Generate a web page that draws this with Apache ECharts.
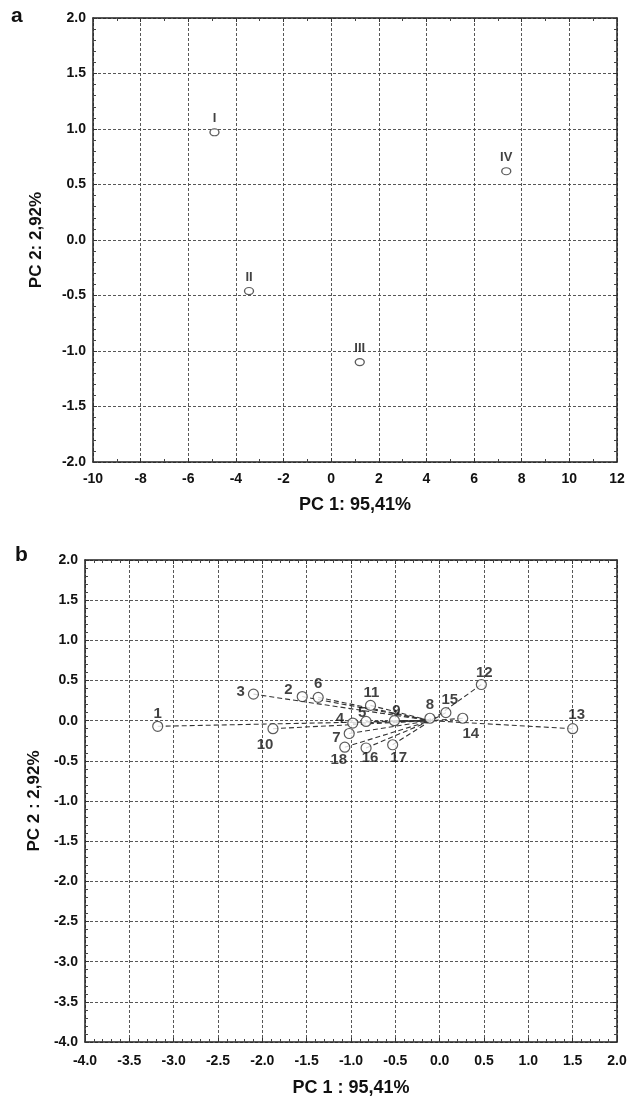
<!DOCTYPE html>
<html><head><meta charset="utf-8">
<script src="https://cdn.jsdelivr.net/npm/echarts@6/dist/echarts.min.js"></script>
<style>html,body{margin:0;padding:0;background:#fff}#c{width:641px;height:1100px}</style>
</head><body><div id="c"></div>
<script>
// Panel a: group scores
const groupNames = ['I', 'II', 'III', 'IV'];
const groupPC1 = [-4.9, -3.45, 1.2, 7.35];
const groupPC2 = [0.97, -0.46, -1.1, 0.62];
// Panel b: variable loadings
const varNames = ['1','2','3','4','5','6','7','8','9','10','11','12','13','14','15','16','17','18'];
const varPC1 = [-3.18, -1.55, -2.1, -0.98, -0.83, -1.37, -1.02, -0.11, -0.51, -1.88, -0.78, 0.47, 1.5, 0.26, 0.07, -0.83, -0.53, -1.07];
const varPC2 = [-0.07, 0.30, 0.33, -0.03, -0.01, 0.29, -0.16, 0.03, 0.0, -0.10, 0.19, 0.45, -0.10, 0.03, 0.10, -0.34, -0.30, -0.33];
const centerPoint = [-0.1, 0.0];
const xTitle = 'PC 1: 95,41%';
const yTitle = 'PC 2: 2,92%';
const xTitleB = 'PC 1 : 95,41%';
const yTitleB = 'PC 2 : 2,92%';

const FONT = 'Liberation Sans, Arial, sans-serif';
const labelPosB = {
  '1':'top','2':'left','3':'left','4':'left','5':'top','6':'top','7':'left','8':'top','9':'top',
  '10':'bottom','11':'top','12':'top','13':'top','14':'bottom','15':'top','16':'bottom','17':'bottom','18':'bottom'
};
const labelOffB = {
  '1':[0,4],'2':[-1,-7],'3':[0,-2],'4':[0,-4],'5':[-4,7],'6':[0,3],'7':[0,4],'8':[0,3],'9':[2,6],
  '10':[-8,0],'11':[1,4],'12':[3,4],'13':[4,2],'14':[8,0],'15':[4,3],'16':[4,-6],'17':[6,-3],'18':[-6,-3]
};

const gridLine = {show:true, lineStyle:{color:'#444', type:[3,2], width:0.9}};
const axisLineStyle = {show:true, onZero:false, lineStyle:{color:'#222', width:1.5}};
const tickLabel = {color:'#111', fontFamily:FONT, fontWeight:'bold', fontSize:14};

function mkAxis(o){
  return Object.assign({
    type:'value', axisLine:axisLineStyle,
    axisTick:{show:true, inside:true, length:4, lineStyle:{color:'#333'}},
    minorTick:{show:true, splitNumber:5, length:3, lineStyle:{color:'#444'}},
    splitLine:{show:false}
  }, o);
}

const chart = echarts.init(document.getElementById('c'), null, {renderer:'canvas'});

const seriesList = [];
// panel a scatter
seriesList.push({
  type:'scatter', xAxisIndex:0, yAxisIndex:0,
  data: groupNames.map((n,i)=>({value:[groupPC1[i], groupPC2[i]], name:n})),
  symbol:'circle', symbolSize:[9,7],
  itemStyle:{color:'#fff', borderColor:'#333', borderWidth:1.2},
  label:{show:true, position:'top', distance:3, formatter:p=>p.name, color:'#111', fontFamily:FONT, fontWeight:'bold', fontSize:13},
  z:5
});
// panel b lines
varNames.forEach((n,i)=>{
  seriesList.push({
    type:'line', xAxisIndex:2, yAxisIndex:2,
    data:[[varPC1[i], varPC2[i]], centerPoint],
    symbol:'none', silent:true,
    lineStyle:{color:'#333', width:1.1, type:[5,3]},
    z:3
  });
});
// panel b points
seriesList.push({
  type:'scatter', xAxisIndex:2, yAxisIndex:2,
  data: varNames.map((n,i)=>({
    value:[varPC1[i], varPC2[i]], name:n,
    label:{position:labelPosB[n], offset:labelOffB[n]}
  })),
  symbol:'circle', symbolSize:10,
  itemStyle:{color:'#fff', borderColor:'#333', borderWidth:1.2},
  label:{show:true, distance:3, formatter:p=>p.name, color:'#111', fontFamily:FONT, fontWeight:'bold', fontSize:15},
  z:5
});

const titleStyle = {fontFamily:FONT, fontWeight:'bold', fontSize:18, color:'#111'};
const yTitleStyle = {fontFamily:FONT, fontWeight:'bold', fontSize:17, color:'#111'};

chart.setOption({
  animation:false,
  backgroundColor:'#fff',
  graphic:[
    {type:'text', left:11, top:6, style:{text:'a', font:'bold 21px '+FONT, fill:'#111'}},
    {type:'text', left:15, top:545, style:{text:'b', font:'bold 21px '+FONT, fill:'#111'}}
  ],
  grid:[
    {left:93, top:18, width:524, height:444},
    {left:85, top:560, width:532, height:482}
  ],
  xAxis:[
    mkAxis({gridIndex:0, position:'bottom', min:-10, max:12, interval:2,
      minorTick:{show:true, splitNumber:2, length:3, lineStyle:{color:'#444'}},
      splitLine:gridLine, axisLabel:Object.assign({margin:10}, tickLabel),
      name:xTitle, nameLocation:'middle', nameGap:34, nameTextStyle:titleStyle}),
    mkAxis({gridIndex:0, position:'top', min:-10, max:12, interval:2,
      minorTick:{show:true, splitNumber:2, length:3, lineStyle:{color:'#444'}},
      axisLabel:{show:false}}),
    mkAxis({gridIndex:1, position:'bottom', min:-4, max:2, interval:0.5,
      splitLine:gridLine, axisLabel:Object.assign({margin:12, formatter:v=>v.toFixed(1)}, tickLabel),
      name:xTitleB, nameLocation:'middle', nameGap:37, nameTextStyle:titleStyle}),
    mkAxis({gridIndex:1, position:'top', min:-4, max:2, interval:0.5, axisLabel:{show:false}})
  ],
  yAxis:[
    mkAxis({gridIndex:0, position:'left', min:-2, max:2, interval:0.5,
      splitLine:gridLine, axisLabel:Object.assign({margin:7, formatter:v=>v.toFixed(1)}, tickLabel),
      name:yTitle, nameLocation:'middle', nameGap:48, nameTextStyle:yTitleStyle}),
    mkAxis({gridIndex:0, position:'right', min:-2, max:2, interval:0.5, axisLabel:{show:false}}),
    mkAxis({gridIndex:1, position:'left', min:-4, max:2, interval:0.5,
      splitLine:gridLine, axisLabel:Object.assign({margin:7, formatter:v=>v.toFixed(1)}, tickLabel),
      name:yTitleB, nameLocation:'middle', nameGap:42, nameTextStyle:yTitleStyle}),
    mkAxis({gridIndex:1, position:'right', min:-4, max:2, interval:0.5, axisLabel:{show:false}})
  ],
  series:seriesList
});
</script></body></html>
